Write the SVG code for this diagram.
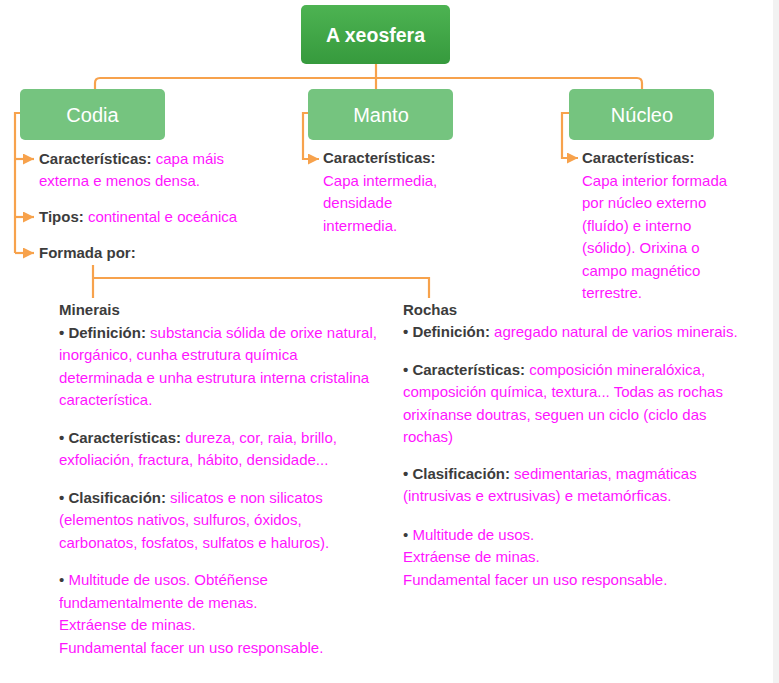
<svg xmlns="http://www.w3.org/2000/svg" width="779" height="683" viewBox="0 0 779 683">
<defs>
<linearGradient id="gTop" x1="0" y1="0" x2="0" y2="1">
<stop offset="0" stop-color="#4db352"/>
<stop offset="1" stop-color="#369a3d"/>
</linearGradient>
<marker id="arr" viewBox="0 0 10 10" refX="10" refY="5" markerWidth="11" markerHeight="11" markerUnits="userSpaceOnUse" orient="auto">
<path d="M0,0 L10,5 L0,10 z" fill="#f7a24c"/>
</marker>
<style>
text{font-family:"Liberation Sans",Arial,sans-serif;font-size:15px}
.b{font-weight:bold;fill:#3c3c3c}
.m{fill:#ff14ff}
.g{fill:#3c3c3c}
.box{fill:#75c47f}
.bt{fill:#fff;font-size:20px;text-anchor:middle}
.conn{fill:none;stroke:#f7a24c;stroke-width:2.2}
</style>
</defs>
<rect x="0" y="0" width="779" height="683" fill="#fff"/>
<rect x="773" y="0" width="6" height="683" fill="#f2f2f2"/>

<g id="connectors">
<path class="conn" d="M95,89 V83 Q95,78 100,78 H637 Q642,78 642,83 V89"/>
<path class="conn" d="M376,64 V89"/>
<path class="conn" d="M20,113 H15 V253"/>
<path class="conn" d="M15,159 H34" marker-end="url(#arr)"/>
<path class="conn" d="M15,217 H34" marker-end="url(#arr)"/>
<path class="conn" d="M15,253 H34" marker-end="url(#arr)"/>
<path class="conn" d="M309,113 H303 V159 H319" marker-end="url(#arr)"/>
<path class="conn" d="M570,113 H562 V158 H578" marker-end="url(#arr)"/>
<path class="conn" d="M93,265 V298 M93,278 H429 V298"/>
</g>

<g id="xeosfera">
<rect x="301" y="5" width="149" height="59" rx="5" fill="url(#gTop)"/>
<text x="375.5" y="42" fill="#fff" font-weight="bold" text-anchor="middle" style="font-size:19.5px">A xeosfera</text>
</g>

<g id="codia">
<rect class="box" x="20" y="89" width="145" height="51" rx="5"/>
<text class="bt" x="92.5" y="122">Codia</text>
</g>
<g id="manto">
<rect class="box" x="308" y="89" width="145" height="51" rx="5"/>
<text class="bt" x="381" y="122">Manto</text>
</g>
<g id="nucleo">
<rect class="box" x="569" y="89" width="145" height="51" rx="5"/>
<text class="bt" x="642" y="122">Núcleo</text>
</g>

<g id="codia-text">
<text x="39" y="164"><tspan class="b">Características:</tspan><tspan class="m"> capa máis</tspan></text>
<text x="39" y="186" class="m">externa e menos densa.</text>
<text x="39" y="222"><tspan class="b">Tipos:</tspan><tspan class="m"> continental e oceánica</tspan></text>
<text x="39" y="258" class="b">Formada por:</text>
</g>

<g id="manto-text">
<text x="323" y="163" class="b">Características:</text>
<text x="323" y="186" class="m">Capa intermedia,</text>
<text x="323" y="208" class="m">densidade</text>
<text x="323" y="231" class="m">intermedia.</text>
</g>

<g id="nucleo-text">
<text x="582" y="163" class="b">Características:</text>
<text x="582" y="186" class="m">Capa interior formada</text>
<text x="582" y="208" class="m">por núcleo externo</text>
<text x="582" y="231" class="m">(fluído) e interno</text>
<text x="582" y="253" class="m">(sólido). Orixina o</text>
<text x="582" y="276" class="m">campo magnético</text>
<text x="582" y="298" class="m">terrestre.</text>
</g>

<g id="minerais">
<text x="59" y="315" class="b">Minerais</text>
<text x="59" y="338"><tspan class="b">• Definición:</tspan><tspan class="m"> substancia sólida de orixe natural,</tspan></text>
<text x="59" y="360" class="m">inorgánico, cunha estrutura química</text>
<text x="59" y="383" class="m">determinada e unha estrutura interna cristalina</text>
<text x="59" y="405" class="m">característica.</text>
<text x="59" y="443"><tspan class="b">• Características:</tspan><tspan class="m"> dureza, cor, raia, brillo,</tspan></text>
<text x="59" y="465" class="m">exfoliación, fractura, hábito, densidade...</text>
<text x="59" y="503"><tspan class="b">• Clasificación:</tspan><tspan class="m"> silicatos e non silicatos</tspan></text>
<text x="59" y="525" class="m">(elementos nativos, sulfuros, óxidos,</text>
<text x="59" y="548" class="m">carbonatos, fosfatos, sulfatos e haluros).</text>
<text x="59" y="585"><tspan class="g">•</tspan><tspan class="m"> Multitude de usos. Obtéñense</tspan></text>
<text x="59" y="608" class="m">fundamentalmente de menas.</text>
<text x="59" y="630" class="m">Extráense de minas.</text>
<text x="59" y="653" class="m">Fundamental facer un uso responsable.</text>
</g>

<g id="rochas">
<text x="403" y="315" class="b">Rochas</text>
<text x="403" y="337"><tspan class="b">• Definición:</tspan><tspan class="m"> agregado natural de varios minerais.</tspan></text>
<text x="403" y="375"><tspan class="b">• Características:</tspan><tspan class="m"> composición mineralóxica,</tspan></text>
<text x="403" y="397" class="m">composición química, textura... Todas as rochas</text>
<text x="403" y="420" class="m">orixínanse doutras, seguen un ciclo (ciclo das</text>
<text x="403" y="442" class="m">rochas)</text>
<text x="403" y="479"><tspan class="b">• Clasificación:</tspan><tspan class="m"> sedimentarias, magmáticas</tspan></text>
<text x="403" y="501" class="m">(intrusivas e extrusivas) e metamórficas.</text>
<text x="403" y="540"><tspan class="g">•</tspan><tspan class="m"> Multitude de usos.</tspan></text>
<text x="403" y="562" class="m">Extráense de minas.</text>
<text x="403" y="585" class="m">Fundamental facer un uso responsable.</text>
</g>
</svg>
